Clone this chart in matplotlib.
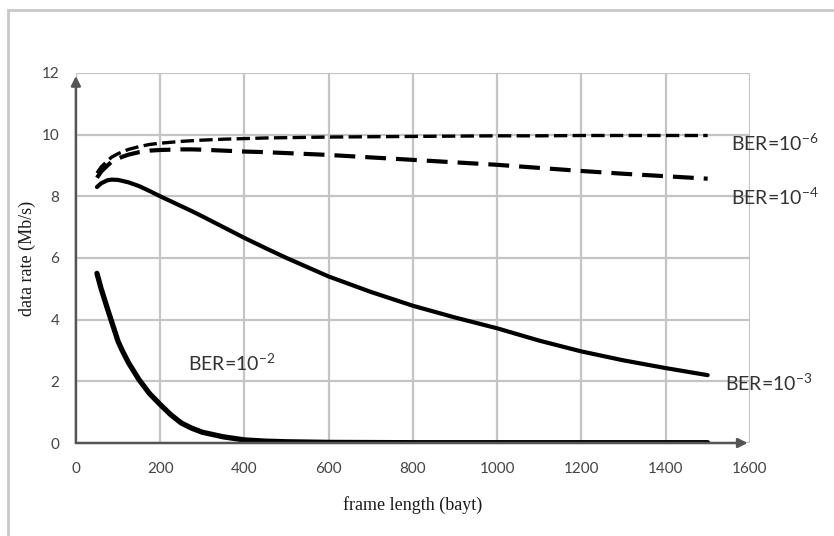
import matplotlib.pyplot as plt
from matplotlib.patches import Rectangle

# frame length (bayt)
frame_len = [50, 60, 75, 85, 100, 110, 125, 150, 175, 200, 225, 250, 275, 300, 350, 400,
             450, 500, 600, 700, 800, 900, 1000, 1100, 1200, 1300, 1400, 1500]

# data rate (Mb/s) for each BER
rate_ber6 = [8.75, 8.95, 9.15, 9.27, 9.38, 9.44, 9.52, 9.61, 9.68, 9.72, 9.75, 9.78, 9.80,
             9.82, 9.85, 9.87, 9.89, 9.90, 9.92, 9.93, 9.94, 9.95, 9.96, 9.96, 9.97,
             9.97, 9.97, 9.97]
rate_ber4 = [8.60, 8.80, 9.00, 9.12, 9.22, 9.28, 9.35, 9.43, 9.48, 9.50, 9.51, 9.52, 9.52,
             9.51, 9.48, 9.45, 9.43, 9.40, 9.34, 9.26, 9.18, 9.10, 9.02, 8.92, 8.82,
             8.73, 8.65, 8.57]
rate_ber3 = [8.30, 8.42, 8.52, 8.54, 8.53, 8.50, 8.45, 8.33, 8.17, 8.00, 7.84, 7.68, 7.52,
             7.35, 7.00, 6.65, 6.32, 6.00, 5.40, 4.90, 4.45, 4.07, 3.72, 3.32, 2.97,
             2.68, 2.43, 2.20]
rate_ber2 = [5.50, 5.00, 4.35, 3.93, 3.30, 3.00, 2.60, 2.05, 1.60, 1.25, 0.92, 0.65, 0.48,
             0.35, 0.20, 0.10, 0.06, 0.04, 0.02, 0.015, 0.01, 0.01, 0.01, 0.01, 0.01,
             0.01, 0.01, 0.01]

x_ticks = [0, 200, 400, 600, 800, 1000, 1200, 1400, 1600]
y_ticks = [0, 2, 4, 6, 8, 10, 12]

plt.rcParams['font.family'] = ['Lato', 'DejaVu Sans']
plt.rcParams['mathtext.fontset'] = 'custom'
plt.rcParams['mathtext.rm'] = 'Lato'

fig = plt.figure(figsize=(8.34, 5.36), dpi=100)
ax = fig.add_axes([0.091, 0.1735, 0.808, 0.6905])

# outer grey frame
fig.patches.append(Rectangle((0.0096, -0.1), 1.2, 1.081, transform=fig.transFigure,
                             fill=False, edgecolor='#c8c8c8', lw=2.0))

ax.plot(frame_len, rate_ber6, color='black', lw=2.4, dashes=(4, 1.6))
ax.plot(frame_len, rate_ber4, color='black', lw=3.0, dashes=(5, 2.4))
ax.plot(frame_len, rate_ber3, color='black', lw=3.0, solid_capstyle='round',
        solid_joinstyle='round')
ax.plot(frame_len, rate_ber2, color='black', lw=3.8, solid_capstyle='round',
        solid_joinstyle='round')

ax.set_xlim(0, 1600)
ax.set_ylim(0, 12)
ax.set_xticks(x_ticks)
ax.set_yticks(y_ticks)
ax.grid(True, color='#c4c4c4', lw=1.6)
ax.set_axisbelow(True)
for s in ['top', 'right', 'left', 'bottom']:
    ax.spines[s].set_visible(False)

# axes with arrow heads
ax.annotate('', xy=(1595, 0), xytext=(0, 0),
            arrowprops=dict(arrowstyle='-|>', color='#555555', lw=1.8,
                            mutation_scale=14, shrinkA=0, shrinkB=0),
            annotation_clip=False)
ax.annotate('', xy=(0, 11.9), xytext=(0, 0),
            arrowprops=dict(arrowstyle='-|>', color='#555555', lw=1.8,
                            mutation_scale=14, shrinkA=0, shrinkB=0),
            annotation_clip=False)

ax.tick_params(length=0, labelsize=11, labelcolor='#444444')
ax.tick_params(axis='x', pad=14)
ax.tick_params(axis='y', pad=12)

ax.set_xlabel('frame length (bayt)', family='Liberation Serif', fontsize=13,
              color='#1a1a1a', labelpad=14)
ax.set_ylabel('data rate (Mb/s)', family='Liberation Serif', fontsize=13,
              color='#1a1a1a', labelpad=4)

txt = dict(fontsize=14, color='#333333', va='center', ha='left', clip_on=False)
ax.text(1555, 9.73, r'BER=10$^{\mathregular{-6}}$', **txt)
ax.text(1555, 7.98, r'BER=10$^{\mathregular{-4}}$', **txt)
ax.text(1541, 1.95, r'BER=10$^{\mathregular{-3}}$', **txt)
ax.text(265, 2.6, r'BER=10$^{\mathregular{-2}}$', **txt)

fig.savefig('out.png', dpi=100)
